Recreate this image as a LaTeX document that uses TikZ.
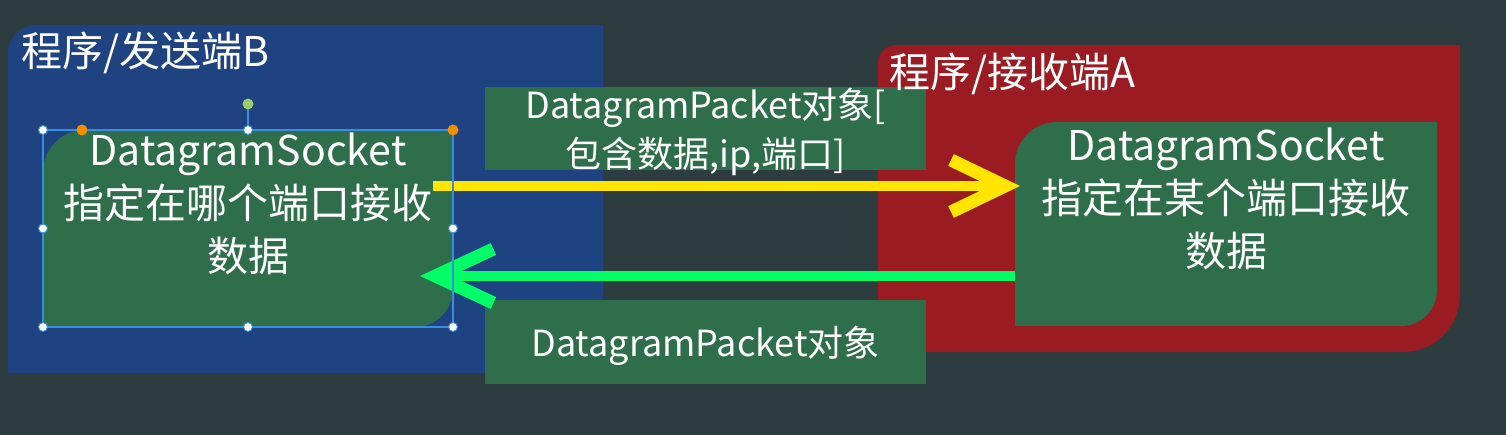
\documentclass[tikz,border=0pt]{standalone}
\usepackage{fontspec}
\newfontfamily\cjk{Noto Sans CJK SC}
\usetikzlibrary{arrows.meta,calc}
\definecolor{bgc}{HTML}{2D3C3E}
\definecolor{bluec}{HTML}{1E4380}
\definecolor{redc}{HTML}{9A1C22}
\definecolor{greenc}{HTML}{2F6E4A}
\definecolor{yellowc}{HTML}{FFE500}
\definecolor{arrowg}{HTML}{00FF66}
\definecolor{selc}{HTML}{3B8EDB}
\definecolor{orangec}{HTML}{F09000}
\definecolor{rotc}{HTML}{9CCB6C}
\begin{document}
\begin{tikzpicture}[x=1pt,y=-1pt,
  frame/.style={inner sep=0pt, outer sep=0pt, rectangle},
  bigtext/.style={text=white, font=\cjk\fontsize{41}{53}\selectfont, align=center, inner sep=0pt},
  titletext/.style={text=white, font=\cjk\fontsize{41}{46}\selectfont, inner sep=0pt, anchor=west},
  labelbox/.style={fill=greenc, minimum width=441pt, minimum height=83pt, inner sep=0pt},
  labeltext/.style={text=white, font=\cjk\fontsize{36}{49}\selectfont, align=center, inner sep=0pt},
  flow/.style={line width=10pt},
  handle/.style={circle, fill=white, draw=selc, line width=1pt, minimum size=9pt, inner sep=0pt},
  knob/.style={circle, fill=#1, minimum size=11pt, inner sep=0pt},
]
\fill[bgc] (0,0) rectangle (1506,435);
\useasboundingbox (0,0) rectangle (1506,435);

% sender region (blue)
\fill[bluec] (8,373) -- (8,53) arc[start angle=180,end angle=90,radius=28pt] -- (603,25) -- (603,373) -- cycle;
% receiver region (red)
\fill[redc] (878,352) -- (878,63) arc[start angle=180,end angle=90,radius=18pt] -- (1460,45) -- (1460,295) arc[start angle=0,end angle=-90,radius=57pt] -- cycle;

% packet labels
\node[labelbox] (lab1) at (705.5,128.5) {};
\node[labelbox, minimum height=84pt] (lab2) at (705.5,342) {};
\node[labeltext] (lab1t) at ($(lab1)+(0,3)$) {DatagramPacket对象[\\包含数据,ip,端口]};
\node[labeltext] (lab2t) at ($(lab2)+(0,4)$) {DatagramPacket对象};

% socket boxes
\node[frame, minimum width=410pt, minimum height=197pt] (sb) at (248,228.5) {};
\node[frame, minimum width=422pt, minimum height=204pt] (rb) at (1226,224) {};
\fill[greenc] (sb.south west) -- ($(sb.north west)+(0,42)$) arc[start angle=180,end angle=90,radius=42pt]
  -- (sb.north east) -- ($(sb.south east)+(0,-38)$) arc[start angle=0,end angle=-90,radius=38pt] -- cycle;
\fill[greenc] (rb.south west) -- ($(rb.north west)+(0,42)$) arc[start angle=180,end angle=90,radius=42pt]
  -- (rb.north east) -- ($(rb.south east)+(0,-36)$) arc[start angle=0,end angle=-90,radius=36pt] -- cycle;
\node[bigtext] (sbt) at (248,204) {DatagramSocket\\指定在哪个端口接收\\数据};
\node[bigtext] (rbt) at (1226,199) {DatagramSocket\\指定在某个端口接收\\数据};

% connectors
\coordinate (ys) at (433,186);
\coordinate (gt) at (420,276);
\draw[flow, yellowc, -{Straight Barb[length=54pt,width=52pt,line width=13pt]}] (ys) -- ($(rb.west |- ys)+(5,0)$);
\draw[flow, arrowg, -{Straight Barb[length=58pt,width=54pt,line width=13pt]}] (rb.west |- gt) -- (gt);

% selection frame on the sender box
\draw[selc, line width=1.2pt] (sb.north west) rectangle (sb.south east);
\draw[selc, line width=1.2pt] (sb.north) -- ($(sb.north)+(0,-26)$) coordinate (rot);
\node[knob=rotc] (rk) at (rot) {};
\foreach \a in {north west,north,west,east,south west,south,south east}
  \node[handle] at (sb.\a) {};
\node[knob=orangec] (o1) at ($(sb.north west)+(39,0)$) {};
\node[knob=orangec] (o2) at (sb.north east) {};

% titles
\node[titletext] (t1) at (21,53) {程序/发送端B};
\node[titletext] (t2) at (889,74) {程序/接收端A};
\end{tikzpicture}
\end{document}
